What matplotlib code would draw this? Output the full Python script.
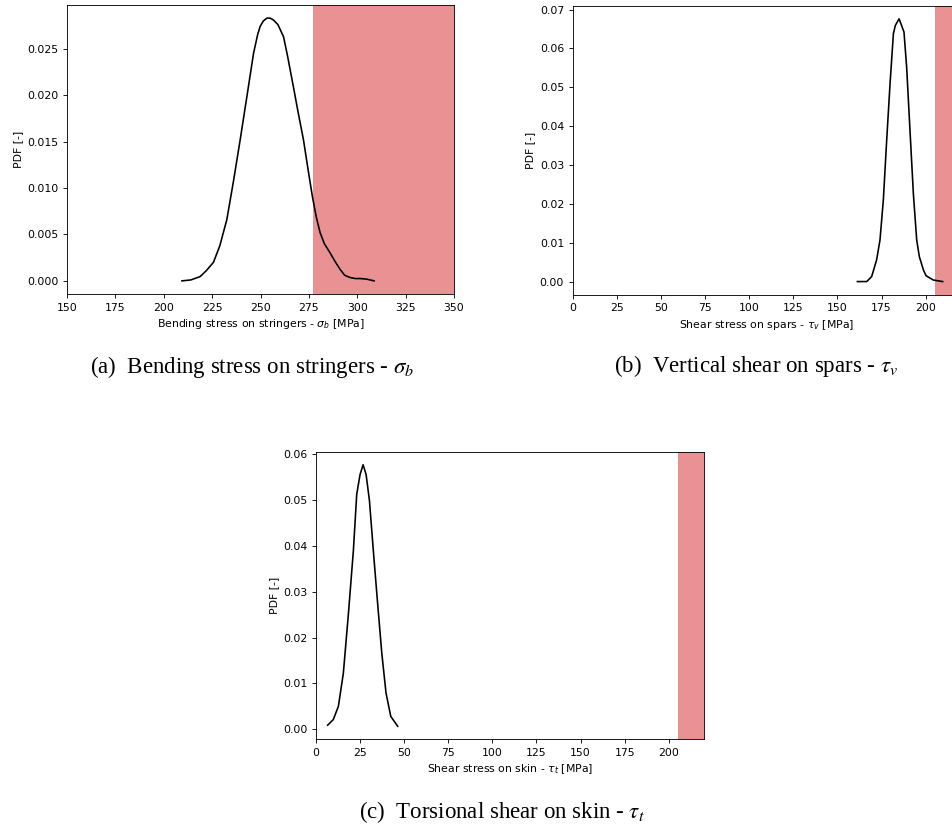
import matplotlib.pyplot as plt

# bending stress on stringers (a)
sigma_b = [209.4, 214, 218.8, 222, 225.7, 229, 232.6, 236, 239.5, 243, 246.4, 248.5, 249.8,
           251.5, 253.3, 255, 256.7, 259, 261.9, 264, 267, 269.5, 272.2, 274.5, 276.8, 278.8,
           280.8, 283, 286, 288.5, 291.1, 293.5, 296.3, 299, 301.5, 305, 308.7]
pdf_b = [0.0, 0.0001, 0.00046, 0.0011, 0.002, 0.0038, 0.0066, 0.0107, 0.0152, 0.0199, 0.0245,
         0.0265, 0.0274, 0.0280, 0.0283, 0.0283, 0.0281, 0.0276, 0.0263, 0.0242, 0.0209, 0.0181,
         0.0152, 0.0121, 0.0091, 0.0069, 0.0052, 0.0040, 0.0030, 0.0021, 0.00125, 0.0006,
         0.00036, 0.00025, 0.00025, 0.00018, 0.0]

# vertical shear on spars (b)
tau_v = [161.3, 166.6, 169.4, 172.2, 174.1, 176.0, 177.9, 179.8, 181.7, 182.8, 184.9, 186.0,
         187.7, 189.2, 191.1, 193.0, 194.9, 196.4, 198.7, 200.2, 204.3, 209.6]
pdf_v = [0.0, 0.0, 0.0013, 0.0056, 0.0107, 0.021, 0.0364, 0.0509, 0.0638, 0.0659, 0.0676, 0.0663,
         0.0642, 0.0552, 0.0389, 0.0227, 0.0107, 0.0064, 0.003, 0.0015, 0.0004, 0.0]

# torsional shear on skin (c)
tau_t = [6.6, 9.8, 12.7, 15.5, 18.4, 21.2, 23.1, 25.0, 26.7, 28.4, 30.3, 32.5, 34.8, 37.3,
         39.7, 42.4, 46.3]
pdf_t = [0.00087, 0.0021, 0.005, 0.0122, 0.0253, 0.039, 0.0513, 0.0556, 0.0577, 0.0556, 0.0499,
         0.039, 0.0281, 0.0166, 0.0079, 0.0028, 0.00065]

# allowable limits (red = failure region)
limit_b = (277, 350)
limit_v = (205, 220)
limit_t = (205, 220)

xlabels = [r'Bending stress on stringers - $\sigma_b$ [MPa]',
           r'Shear stress on spars - $\tau_v$ [MPa]',
           r'Shear stress on skin - $\tau_t$ [MPa]']
captions = [r'(a)  Bending stress on stringers - $\sigma_b$',
            r'(b)  Vertical shear on spars - $\tau_v$',
            r'(c)  Torsional shear on skin - $\tau_t$']

s = 0.78
plt.rcParams.update({
    'font.size': 10 * s,
    'axes.linewidth': 0.8 * s,
    'xtick.major.size': 3.5 * s,
    'ytick.major.size': 3.5 * s,
    'xtick.major.width': 0.8 * s,
    'ytick.major.width': 0.8 * s,
    'axes.labelpad': 4 * s,
})

W, H = 952, 826
fig = plt.figure(figsize=(W / 100, H / 100), dpi=100)


def box(l, t, r, b):
    return [l / W, 1 - b / H, (r - l) / W, (b - t) / H]


axs = [fig.add_axes(box(67, 5, 454, 294)),
       fig.add_axes(box(572.7, 5.7, 961, 294.7)),
       fig.add_axes(box(316, 451.7, 704, 739.3))]

data = [(sigma_b, pdf_b, limit_b, (150, 350)),
        (tau_v, pdf_v, limit_v, (0, 220)),
        (tau_t, pdf_t, limit_t, (0, 220))]

for ax, (x, y, lim, xl), lab in zip(axs, data, xlabels):
    ax.plot(x, y, color='black', lw=1.5 * s)
    ax.axvspan(lim[0], lim[1], color='tab:red', alpha=0.5, lw=0)
    ax.set_xlim(xl)
    ax.set_xticks(range(xl[0], xl[1] + 1 if xl[0] == 150 else 201, 25))
    ax.set_xlabel(lab)
    ax.set_ylabel('PDF [-]')

# captions below each panel (baseline positions in px)
cap_pos = [(252, 373), (756, 372), (502, 818)]
for (cx, cy), c in zip(cap_pos, captions):
    fig.text(cx / W, 1 - cy / H, c, ha='center', va='baseline', fontsize=16.5,
             family='Liberation Serif', math_fontfamily='stix')

fig.savefig('out.png', dpi=100)
